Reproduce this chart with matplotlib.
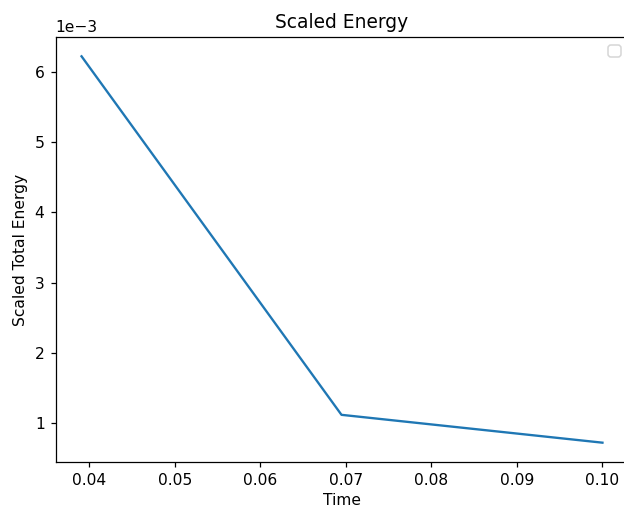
import matplotlib
matplotlib.use("Agg")
import matplotlib.pyplot as plt

# values
time = [0.0391, 0.06949, 0.1000]
energy = [6.22e-3, 1.123e-3, 0.727e-3]

# rendered at 112 dpi to get the reference's text size in 624 x 510 px
dpi = 112
fig = plt.figure(figsize=(624 / dpi, 510 / dpi), dpi=dpi)
# the right spine sits just past the image edge in the reference
ax = fig.add_axes([55.5 / 624, 48 / 510, 573 / 624, 425 / 510])

ax.plot(time, energy)
ax.set_title("Scaled Energy")
ax.set_xlabel("Time", labelpad=3)
ax.set_ylabel("Scaled Total Energy")
ax.ticklabel_format(axis="y", style="sci", scilimits=(0, 0))
ax.legend()  # no labelled artists -> empty box, as in the original

fig.savefig("out.png", dpi=dpi)
